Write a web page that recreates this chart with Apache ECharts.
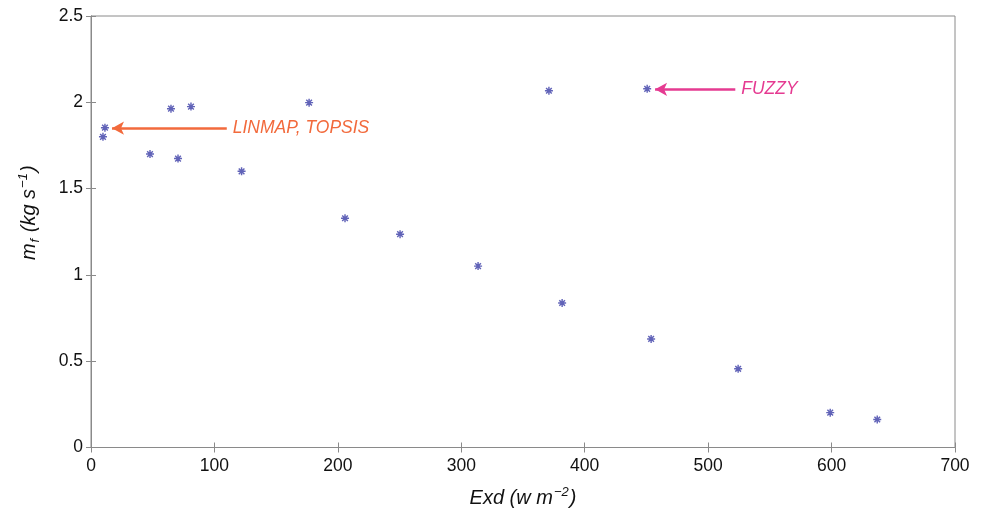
<!DOCTYPE html>
<html><head><meta charset="utf-8">
<script src="https://cdn.jsdelivr.net/npm/echarts@6/dist/echarts.min.js"></script>
<style>html,body{margin:0;padding:0;background:#fff}#c{width:982px;height:513px}</style>
</head><body><div id="c"></div>
<script>
const exd = [9.7, 11.3, 47.8, 64.8, 70.5, 81, 122, 176.7, 205.8, 250.4, 313.6, 371, 381.7, 450.6, 453.8, 524.3, 598.9, 637];
const mf  = [1.80, 1.853, 1.70, 1.963, 1.674, 1.975, 1.60, 1.998, 1.328, 1.236, 1.051, 2.067, 0.837, 2.078, 0.629, 0.456, 0.202, 0.162];
const xTicks = [0,100,200,300,400,500,600,700];
const yTicks = [0,0.5,1,1.5,2,2.5];
const linmapArrow = {from:[110, 1.85], to:[17, 1.85], text:'LINMAP, TOPSIS'};
const fuzzyArrow = {from:[522, 2.075], to:[457, 2.075], text:'FUZZY'};

const points = exd.map((x,i)=>[x, mf[i]]);
const star = 'path://M-0.9,-5L0.9,-5L0.9,5L-0.9,5Z M-5,-0.9L5,-0.9L5,0.9L-5,0.9Z M-4.17,-2.9L-2.9,-4.17L4.17,2.9L2.9,4.17Z M2.9,-4.17L4.17,-2.9L-2.9,4.17L-4.17,2.9Z M-1.8,-1.8L1.8,-1.8L1.8,1.8L-1.8,1.8Z';
const font = '"Liberation Sans", Arial, sans-serif';
const axColor = '#8a8a8a';

function arrowLine(a, color){
  return {
    type:'line', data:[], silent:true,
    markLine:{
      silent:true, symbol:['none','arrow'], symbolSize:[10,12],
      lineStyle:{color:color, width:2.5, type:'solid'},
      label:{show:true, position:'start', formatter:a.text, color:color, fontStyle:'italic', fontSize:17.5, fontFamily:font, distance:6},
      data:[[{coord:a.from},{coord:a.to}]]
    }
  };
}

const chart = echarts.init(document.getElementById('c'));
chart.setOption({
  animation:false,
  grid:{left:91, right:27, top:16, bottom:64, show:true, borderColor:axColor, borderWidth:1},
  xAxis:[{
    type:'value', min:0, max:700, interval:100,
    axisLine:{show:true, lineStyle:{color:axColor}},
    axisTick:{show:true, inside:true, length:5, lineStyle:{color:axColor}},
    axisLabel:{color:'#111', fontSize:17.5, fontFamily:font, margin:10},
    splitLine:{show:false},
    name:'{i|Exd (w m}{s|−2}{i|)}', nameLocation:'middle', nameGap:38,
    nameTextStyle:{rich:{i:{fontStyle:'italic', fontSize:20, fontFamily:font, color:'#111'}, s:{fontStyle:'italic', fontSize:13, fontFamily:font, color:'#111', padding:[0,1,12,1]}}}
  },{
    type:'value', position:'top', min:0, max:700, interval:100,
    axisLine:{show:true, lineStyle:{color:axColor}},
    axisTick:{show:true, inside:true, length:5, lineStyle:{color:axColor}},
    axisLabel:{show:false}, splitLine:{show:false}
  }],
  yAxis:[{
    type:'value', min:0, max:2.5, interval:0.5,
    axisLine:{show:true, lineStyle:{color:axColor}},
    axisTick:{show:true, inside:true, length:5, lineStyle:{color:axColor}},
    axisLabel:{color:'#111', fontSize:17.5, fontFamily:font, margin:8},
    splitLine:{show:false},
    name:'{i|m}{b|f}{i| (kg s}{s|−1}{i|)}', nameLocation:'middle', nameGap:49,
    nameTextStyle:{padding:[0,0,0,38], rich:{i:{fontStyle:'italic', fontSize:20, fontFamily:font, color:'#111'}, b:{fontStyle:'italic', fontSize:13, fontFamily:font, color:'#111', padding:[12,1,0,1]}, s:{fontStyle:'italic', fontSize:13, fontFamily:font, color:'#111', padding:[0,1,12,1]}}}
  },{
    type:'value', position:'right', min:0, max:2.5, interval:0.5,
    axisLine:{show:true, lineStyle:{color:axColor}},
    axisTick:{show:true, inside:true, length:5, lineStyle:{color:axColor}},
    axisLabel:{show:false}, splitLine:{show:false}
  }],
  series:[
    {type:'scatter', data:points, symbol:star, symbolSize:8, itemStyle:{color:'#3a3ca6'}},
    arrowLine(linmapArrow, '#f26a3c'),
    arrowLine(fuzzyArrow, '#e53a91')
  ]
});
</script></body></html>
